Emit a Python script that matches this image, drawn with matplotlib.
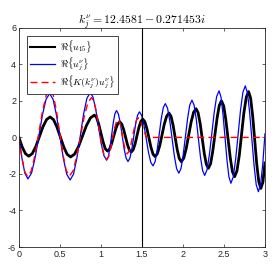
import numpy as np
import matplotlib
matplotlib.use('Agg')
import matplotlib.pyplot as plt

plt.rcParams['mathtext.fontset'] = 'cm'
plt.rcParams['axes.unicode_minus'] = False
plt.rcParams['font.family'] = ['Liberation Sans', 'DejaVu Sans']

# Re{u_15}
x_u15 = [0, 0.04, 0.08, 0.12,
         0.163, 0.207, 0.25, 0.293, 0.337, 0.38,
         0.422, 0.463, 0.505, 0.547, 0.588, 0.63,
         0.678, 0.727, 0.775, 0.823, 0.872, 0.92,
         0.947, 0.973, 1.0, 1.027, 1.053, 1.08,
         1.105, 1.13, 1.155, 1.18, 1.205, 1.23,
         1.253, 1.277, 1.3, 1.323, 1.347, 1.37,
         1.393, 1.417, 1.44, 1.463, 1.487, 1.51,
         1.535, 1.56, 1.585, 1.61, 1.635, 1.66,
         1.688, 1.717, 1.745, 1.773, 1.802, 1.83,
         1.855, 1.88, 1.905, 1.93, 1.955, 1.98,
         2.01, 2.04, 2.07, 2.10, 2.13, 2.16,
         2.185, 2.21, 2.235, 2.26, 2.285, 2.31,
         2.337, 2.363, 2.39, 2.417, 2.443, 2.47,
         2.497, 2.523, 2.55, 2.577, 2.603, 2.63,
         2.658, 2.687, 2.715, 2.743, 2.772, 2.80,
         2.825, 2.85, 2.875, 2.90, 2.925, 2.95,
         2.975, 3.0]
y_u15 = [0, -0.52, -0.89, -1.03,
         -0.886, -0.49, 0.045, 0.58, 0.976, 1.12,
         0.973, 0.573, 0.025, -0.523, -0.923, -1.07,
         -0.917, -0.498, 0.075, 0.648, 1.067, 1.22,
         1.088, 0.728, 0.235, -0.258, -0.618, -0.75,
         -0.643, -0.35, 0.05, 0.45, 0.743, 0.85,
         0.739, 0.438, 0.025, -0.388, -0.689, -0.8,
         -0.679, -0.35, 0.1, 0.55, 0.879, 1.0,
         0.863, 0.488, -0.025, -0.538, -0.913, -1.05,
         -0.891, -0.455, 0.14, 0.735, 1.171, 1.33,
         1.152, 0.665, 0.0, -0.665, -1.152, -1.33,
         -1.136, -0.605, 0.12, 0.845, 1.376, 1.57,
         1.352, 0.755, -0.06, -0.875, -1.472, -1.69,
         -1.443, -0.768, 0.155, 1.078, 1.753, 2.0,
         1.722, 0.963, -0.075, -1.113, -1.872, -2.15,
         -1.838, -0.985, 0.18, 1.345, 2.198, 2.51,
         2.155, 1.185, -0.14, -1.465, -2.435, -2.79,
         -2.45, -1.4]

# Re{u_j^nu}
x_unu = [0, 0.037, 0.073, 0.11,
         0.154, 0.198, 0.243, 0.287, 0.331, 0.375,
         0.417, 0.458, 0.50, 0.542, 0.583, 0.625,
         0.666, 0.707, 0.748, 0.788, 0.829, 0.87,
         0.903, 0.937, 0.97, 1.003, 1.037, 1.07,
         1.09, 1.11, 1.13, 1.15, 1.17, 1.19,
         1.213, 1.237, 1.26, 1.283, 1.307, 1.33,
         1.353, 1.377, 1.40, 1.423, 1.447, 1.47,
         1.4975, 1.525, 1.5525, 1.58, 1.6075, 1.635,
         1.66, 1.685, 1.71, 1.735, 1.76, 1.785,
         1.8125, 1.84, 1.8675, 1.895, 1.9225, 1.95,
         1.977, 2.003, 2.03, 2.057, 2.083, 2.11,
         2.136, 2.162, 2.1875, 2.213, 2.239, 2.265,
         2.294, 2.323, 2.3525, 2.382, 2.411, 2.44,
         2.464, 2.488, 2.5125, 2.537, 2.561, 2.585,
         2.614, 2.643, 2.6725, 2.702, 2.731, 2.76,
         2.787, 2.813, 2.84, 2.867, 2.893, 2.92,
         2.947, 2.973, 3.0]
y_unu = [0, -1.135, -1.966, -2.27,
         -1.957, -1.103, 0.065, 1.233, 2.087, 2.40,
         2.083, 1.218, 0.035, -1.148, -2.013, -2.33,
         -2.009, -1.133, 0.065, 1.263, 2.139, 2.46,
         2.211, 1.533, 0.605, -0.323, -1.001, -1.25,
         -1.068, -0.57, 0.11, 0.79, 1.288, 1.47,
         1.283, 0.773, 0.075, -0.623, -1.133, -1.32,
         -1.138, -0.64, 0.04, 0.72, 1.218, 1.40,
         1.202, 0.66, -0.08, -0.82, -1.362, -1.56,
         -1.332, -0.708, 0.145, 0.998, 1.622, 1.85,
         1.595, 0.898, -0.055, -1.008, -1.705, -1.96,
         -1.692, -0.96, 0.04, 1.04, 1.772, 2.04,
         1.764, 1.01, -0.02, -1.05, -1.804, -2.08,
         -1.77, -0.923, 0.235, 1.393, 2.24, 2.55,
         2.211, 1.285, 0.02, -1.245, -2.171, -2.51,
         -2.153, -1.178, 0.155, 1.488, 2.463, 2.82,
         2.432, 1.373, -0.075, -1.523, -2.582, -2.97,
         -2.57, -1.485, 0.2]

# Re{K(k_j^nu) u_j^nu}
x_ku = [0, 0.035, 0.07, 0.105,
        0.151, 0.197, 0.2425, 0.288, 0.334, 0.38,
        0.419, 0.458, 0.4975, 0.537, 0.576, 0.615,
        0.66, 0.705, 0.75, 0.795, 0.84, 0.885,
        0.916, 0.947, 0.9775, 1.008, 1.039, 1.07,
        1.093, 1.117, 1.14, 1.163, 1.187, 1.21,
        1.228, 1.247, 1.265, 1.283, 1.302, 1.32,
        1.3425, 1.365, 1.3875, 1.41, 1.4325, 1.455,
        1.48, 1.505, 1.53, 1.555, 1.58, 3.0]
y_ku = [0, -1.075, -1.862, -2.15,
        -1.829, -0.953, 0.245, 1.443, 2.319, 2.64,
        2.321, 1.45, 0.26, -0.93, -1.801, -2.12,
        -1.832, -1.045, 0.03, 1.105, 1.892, 2.18,
        1.954, 1.335, 0.49, -0.355, -0.974, -1.2,
        -1.054, -0.655, -0.11, 0.435, 0.834, 0.98,
        0.854, 0.51, 0.04, -0.43, -0.774, -0.9,
        -0.768, -0.408, 0.085, 0.578, 0.938, 1.07,
        0.95, 0.62, 0.27, 0.05, 0.0, 0.0]

x_split = 1.5

fig = plt.figure(figsize=(2.74, 2.74), dpi=100)
ax = fig.add_axes([0.069, 0.0985, 0.898, 0.8])

ax.plot(x_u15, y_u15, color='black', lw=2.0, label=r'$\Re\{u_{15}\}$')
ax.plot(x_unu, y_unu, color='blue', lw=0.9, label=r'$\Re\{u_j^\nu\}$')
ax.plot(x_ku, y_ku, color='red', lw=1.0, ls=(0, (5, 3)), label=r'$\Re\{K(k_j^\nu)u_j^\nu\}$')
ax.axvline(x_split, color='black', lw=0.8)

ax.set_xlim(0, 3)
ax.set_ylim(-6, 6)
ax.set_xticks([0, 0.5, 1, 1.5, 2, 2.5, 3])
ax.set_xticklabels(['0', '0.5', '1', '1.5', '2', '2.5', '3'])
ax.set_yticks([-6, -4, -2, 0, 2, 4, 6])
ax.tick_params(direction='in', top=True, right=True, labelsize=6.5, length=2.5,
               width=0.5, colors='#262626', pad=2)
for s in ax.spines.values():
    s.set_linewidth(0.6)
    s.set_color('#262626')

ax.set_title(r'$k_j^\nu = 12.4581 - 0.271453i$', fontsize=8.5, pad=3)

leg = ax.legend(loc='upper left', fontsize=7, fancybox=False, framealpha=1,
                edgecolor='#262626', borderpad=0.3, labelspacing=0.08,
                handlelength=2.6, handletextpad=0.5, borderaxespad=0.8)
leg.get_frame().set_linewidth(0.6)
for h in leg.get_lines()[:1]:
    h.set_linewidth(1.5)

fig.savefig('out.png', dpi=100)
